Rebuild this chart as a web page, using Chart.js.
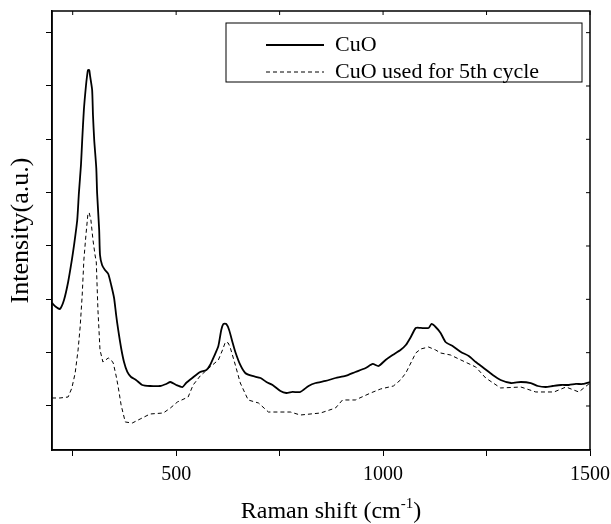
<!DOCTYPE html>
<html>
<head>
<meta charset="utf-8">
<script src="https://cdn.jsdelivr.net/npm/chart.js@4"></script>
<style>
  body { margin: 0; background: #fff; }
  #wrap { width: 611px; height: 524px; }
</style>
</head>
<body>
<div id="wrap"><canvas id="raman"></canvas></div>
<script>
// Raman shift (cm-1) / intensity (a.u.)
const cuoShift = [200,210,219,229,239,248,253,261,265,270,273,277,282,285,287,290,292,297,299,302,307,309,314,316,321,328,336,343,350,355,360,367,374,382,391,403,418,437,461,476,486,500,515,524,539,558,573,582,592,602,609,614,621,628,636,643,655,667,684,704,718,733,752,766,781,800,820,837,861,885,909,933,958,975,989,1006,1023,1042,1055,1067,1079,1091,1110,1117,1127,1139,1151,1168,1188,1207,1224,1243,1265,1284,1309,1333,1357,1374,1393,1410,1430,1449,1466,1483,1500];
const cuoIntensity = [1931,1856,1819,1988,2325,2738,3000,3488,3994,4519,4988,5550,6000,6206,6300,6300,6188,5925,5456,4988,4463,3994,3300,2831,2644,2550,2475,2269,2025,1706,1425,1088,825,638,544,488,394,375,375,413,450,394,356,431,525,638,675,769,938,1125,1425,1538,1538,1425,1200,1013,769,619,563,525,450,394,281,244,263,263,375,431,469,525,563,638,713,788,750,863,956,1050,1144,1294,1463,1463,1463,1538,1481,1369,1200,1125,1013,938,825,713,581,488,431,450,431,375,356,375,394,394,413,413,450];

const usedShift = [200,219,239,248,256,263,268,273,277,282,287,290,294,299,304,307,311,316,323,336,343,348,355,360,367,377,394,413,437,469,486,503,529,541,558,582,602,612,619,626,631,643,655,674,699,723,776,800,849,885,902,933,970,994,1025,1042,1055,1067,1079,1091,1110,1127,1139,1163,1188,1224,1248,1284,1333,1369,1413,1442,1473,1500];
const usedIntensity = [150,150,169,338,619,1050,1481,2081,2738,3206,3619,3619,3488,3113,2831,2700,1800,1050,825,900,863,806,563,356,19,-300,-319,-244,-150,-131,-38,75,169,394,563,731,863,1050,1200,1181,1088,769,431,113,56,-113,-113,-169,-131,-38,113,113,244,319,375,488,619,806,994,1069,1106,1050,994,956,863,731,525,338,356,263,263,356,263,431];

const seriesNames = ['CuO', 'CuO used for 5th cycle'];
const xTicks = [250, 500, 750, 1000, 1250, 1500];
const xLabelled = [500, 1000, 1500];
const yTicks = [0, 1000, 2000, 3000, 4000, 5000, 6000, 7000];

const serif = "'Liberation Serif', 'DejaVu Serif', serif";
const toPts = (xs, ys) => xs.map((x, i) => ({ x: x, y: ys[i] }));

// frame, inner ticks on top/right, x title with superscript, boxed legend
const framePlugin = {
  id: 'frame',
  afterDraw(chart) {
    const { ctx, chartArea: a, scales } = chart;
    ctx.save();
    ctx.strokeStyle = '#000';
    ctx.lineWidth = 1.5;
    ctx.strokeRect(a.left, a.top, a.right - a.left, a.bottom - a.top);
    ctx.lineWidth = 1;
    ctx.beginPath();
    xTicks.forEach(v => {
      const px = scales.x.getPixelForValue(v);
      ctx.moveTo(px, a.top); ctx.lineTo(px, a.top + 4);
    });
    yTicks.forEach(v => {
      const py = scales.y.getPixelForValue(v);
      ctx.moveTo(a.right, py); ctx.lineTo(a.right - 4, py);
    });
    ctx.stroke();

    // x axis title: Raman shift (cm^-1)
    ctx.fillStyle = '#000';
    ctx.textBaseline = 'alphabetic';
    ctx.textAlign = 'left';
    const main = '24px ' + serif, sup = '15px ' + serif;
    ctx.font = main;
    const w1 = ctx.measureText('Raman shift (cm').width;
    const w3 = ctx.measureText(')').width;
    ctx.font = sup;
    const w2 = ctx.measureText('-1').width;
    let tx = 331 - (w1 + w2 + w3) / 2;
    const base = 518;
    ctx.font = main; ctx.fillText('Raman shift (cm', tx, base); tx += w1;
    ctx.font = sup; ctx.fillText('-1', tx, base - 10); tx += w2;
    ctx.font = main; ctx.fillText(')', tx, base);

    // legend
    const bx = 226, by = 23, bw = 356, bh = 59;
    ctx.lineWidth = 1;
    ctx.strokeRect(bx, by, bw, bh);
    ctx.font = '22px ' + serif;
    ctx.textBaseline = 'middle';
    chart.data.datasets.forEach((ds, i) => {
      const ry = by + 22 + i * 27;
      ctx.beginPath();
      ctx.setLineDash(ds.borderDash || []);
      ctx.lineWidth = ds.borderWidth;
      ctx.moveTo(266, ry); ctx.lineTo(324, ry);
      ctx.stroke();
      ctx.setLineDash([]);
      ctx.fillText(ds.label, 335, ry);
    });
    ctx.restore();
  }
};

new Chart(document.getElementById('raman'), {
  type: 'line',
  data: {
    datasets: [
      { label: seriesNames[0], data: toPts(cuoShift, cuoIntensity), borderColor: '#000', borderWidth: 1.8, pointRadius: 0, tension: 0.2, fill: false },
      { label: seriesNames[1], data: toPts(usedShift, usedIntensity), borderColor: '#000', borderWidth: 1, borderDash: [4, 3], pointRadius: 0, tension: 0, fill: false }
    ]
  },
  options: {
    responsive: true,
    maintainAspectRatio: false,
    animation: false,
    layout: { padding: { top: 11, right: 21, bottom: 0, left: 0 } },
    plugins: { legend: { display: false }, tooltip: { enabled: false } },
    scales: {
      x: {
        type: 'linear',
        min: 200, max: 1500,
        afterBuildTicks: s => { s.ticks = xTicks.map(v => ({ value: v })); },
        afterFit: s => { s.height = 74; s.paddingLeft = 0; s.paddingRight = 0; },
        ticks: {
          autoSkip: false, maxRotation: 0,
          color: '#000', padding: 7,
          font: { family: serif, size: 20 },
          callback: v => xLabelled.includes(v) ? String(v) : ''
        },
        grid: { drawOnChartArea: false, color: '#000', tickLength: 6, tickWidth: 1 },
        border: { color: '#000', width: 1.5 },
        title: { display: false }
      },
      y: {
        min: -825, max: 7406,
        afterBuildTicks: s => { s.ticks = yTicks.map(v => ({ value: v })); },
        afterFit: s => { s.width = 52; },
        ticks: { display: false },
        grid: { drawOnChartArea: false, color: '#000', tickLength: 6, tickWidth: 1 },
        border: { color: '#000', width: 1.5 },
        title: { display: true, text: 'Intensity(a.u.)', color: '#000', font: { family: serif, size: 26 }, padding: { top: 6, bottom: 0 } }
      }
    }
  },
  plugins: [framePlugin]
});
</script>
</body>
</html>
